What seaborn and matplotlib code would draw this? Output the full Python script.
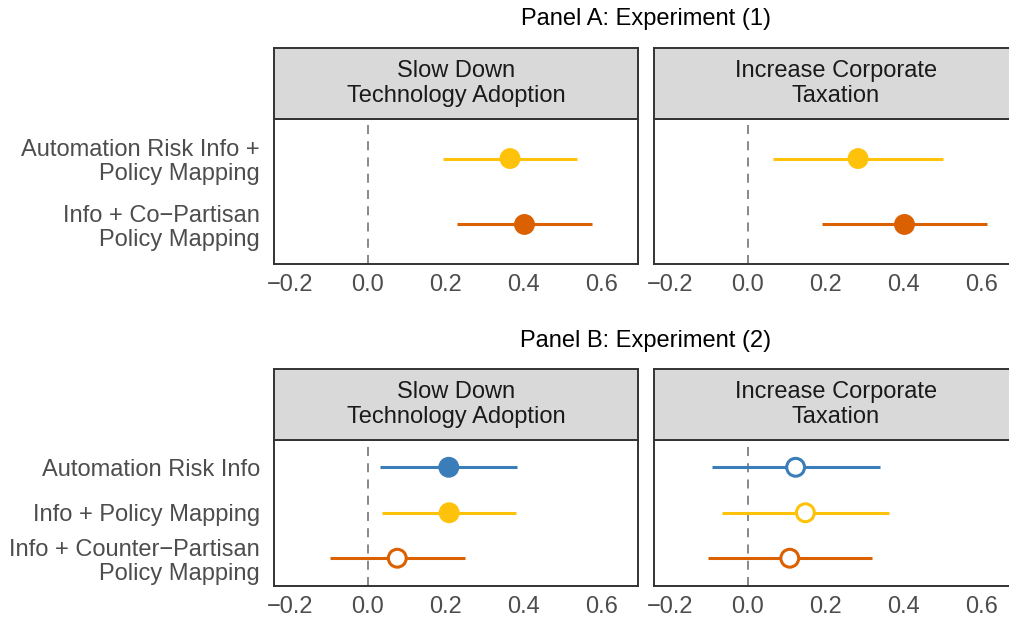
import numpy as np
import pandas as pd
import matplotlib
matplotlib.use("Agg")
import matplotlib.pyplot as plt
from matplotlib.ticker import FuncFormatter
import seaborn as sns

# ---------------- data ----------------
outcomes = ["Slow Down\nTechnology Adoption", "Increase Corporate\nTaxation"]
panel_titles = ["Panel A: Experiment (1)", "Panel B: Experiment (2)"]

treat_A = ["Automation Risk Info +\nPolicy Mapping", "Info + Co\u2212Partisan\nPolicy Mapping"]
colors_A = ["#FFC20A", "#DA6000"]
est_A_slow = [0.365, 0.402]
lo_A_slow = [0.194, 0.230]
hi_A_slow = [0.537, 0.575]
sig_A_slow = [True, True]
est_A_tax = [0.283, 0.402]
lo_A_tax = [0.066, 0.191]
hi_A_tax = [0.500, 0.614]
sig_A_tax = [True, True]

treat_B = ["Automation Risk Info", "Info + Policy Mapping", "Info + Counter\u2212Partisan\nPolicy Mapping"]
colors_B = ["#3A7DB9", "#FFC20A", "#DA6000"]
est_B_slow = [0.208, 0.209, 0.076]
lo_B_slow = [0.032, 0.037, -0.097]
hi_B_slow = [0.383, 0.380, 0.250]
sig_B_slow = [True, True, False]
est_B_tax = [0.123, 0.148, 0.108]
lo_B_tax = [-0.092, -0.065, -0.102]
hi_B_tax = [0.339, 0.362, 0.318]
sig_B_tax = [False, False, False]

x_ticks = [-0.2, 0.0, 0.2, 0.4, 0.6]
x_lim = (-0.24, 0.693)

# ---------------- style ----------------
sns.set_theme(style="white")
plt.rcParams["font.family"] = ["Liberation Sans", "DejaVu Sans"]
FS = 17
DARK = "#333333"

W, H = 1009, 622
fig = plt.figure(figsize=(W / 100, H / 100), dpi=100)


def fx(px):
    return px / W


def fy(px):
    return 1 - px / H


def make_panel(left_px, top_px, bottom_px, strip_top_px, width_px, treats, colors, est, lo, hi, sig, outcome, show_y):
    ax = fig.add_axes([fx(left_px), fy(bottom_px), width_px / W, (bottom_px - top_px) / H])
    df = pd.DataFrame({"treat": treats, "est": est, "lo": lo, "hi": hi, "sig": sig})
    df["pos"] = np.arange(len(df))
    pal = dict(zip(treats, colors))

    ax.axvline(0, color="#7F7F7F", linestyle=(0, (5, 4)), linewidth=1.3, zorder=1)
    ax.hlines(df["pos"], df["lo"], df["hi"], colors=[pal[t] for t in df["treat"]], linewidth=2.2, zorder=2)
    sns.scatterplot(data=df, x="est", y="pos", hue="treat", palette=pal, s=165,
                    linewidth=2.2, legend=False, ax=ax, zorder=3)
    coll = ax.collections[-1]
    fcs = coll.get_facecolors().copy()
    ecs = fcs.copy()
    for i, s in enumerate(df["sig"]):
        if not s:
            fcs[i] = (1, 1, 1, 1)
    coll.set_facecolors(fcs)
    coll.set_edgecolors(ecs)

    n = len(df)
    ax.set_ylim(n - 1 + 0.6, -0.6)
    ax.set_xlim(*x_lim)
    ax.set_xticks(x_ticks)
    ax.xaxis.set_major_formatter(FuncFormatter(lambda v, p: f"{v:.1f}".replace("-", "\u2212")))
    ax.set_yticks(df["pos"])
    if show_y:
        ax.set_yticklabels(df["treat"])
    else:
        ax.set_yticklabels([])
        ax.tick_params(axis="y", length=0)
    ax.set_xlabel("")
    ax.set_ylabel("")
    ax.tick_params(axis="x", colors=DARK, labelcolor="#4D4D4D", labelsize=FS, length=5, width=1.4, pad=2.5)
    if show_y:
        ax.tick_params(axis="y", colors=DARK, labelcolor="#4D4D4D", labelsize=FS, length=5, width=1.4, pad=5)
    for t in ax.get_yticklabels():
        t.set_linespacing(1.12)
    for sp in ax.spines.values():
        sp.set_color(DARK)
        sp.set_linewidth(1.4)
    ax.grid(False)

    # strip
    sax = fig.add_axes([fx(left_px), fy(top_px), width_px / W, (top_px - strip_top_px) / H])
    sax.set_facecolor("#D9D9D9")
    sax.set_xticks([])
    sax.set_yticks([])
    for sp in sax.spines.values():
        sp.set_color(DARK)
        sp.set_linewidth(1.4)
    sax.text(0.5, 0.5, outcome, ha="center", va="center", fontsize=FS, color="#1A1A1A",
             transform=sax.transAxes, linespacing=1.12)
    return ax


LEFT1, LEFT2, PW = 274, 654, 364

# Panel A
make_panel(LEFT1, 119, 264, 48, PW, treat_A, colors_A, est_A_slow, lo_A_slow, hi_A_slow, sig_A_slow, outcomes[0], True)
make_panel(LEFT2, 119, 264, 48, PW, treat_A, colors_A, est_A_tax, lo_A_tax, hi_A_tax, sig_A_tax, outcomes[1], False)
# Panel B
make_panel(LEFT1, 440, 585.5, 369, PW, treat_B, colors_B, est_B_slow, lo_B_slow, hi_B_slow, sig_B_slow, outcomes[0], True)
make_panel(LEFT2, 440, 585.5, 369, PW, treat_B, colors_B, est_B_tax, lo_B_tax, hi_B_tax, sig_B_tax, outcomes[1], False)

cx = fx((LEFT1 + LEFT2 + PW) / 2)
fig.text(cx, fy(19), panel_titles[0], ha="center", va="center", fontsize=FS, color="black")
fig.text(cx, fy(341), panel_titles[1], ha="center", va="center", fontsize=FS, color="black")

fig.savefig("out.png", dpi=100, facecolor="white")
